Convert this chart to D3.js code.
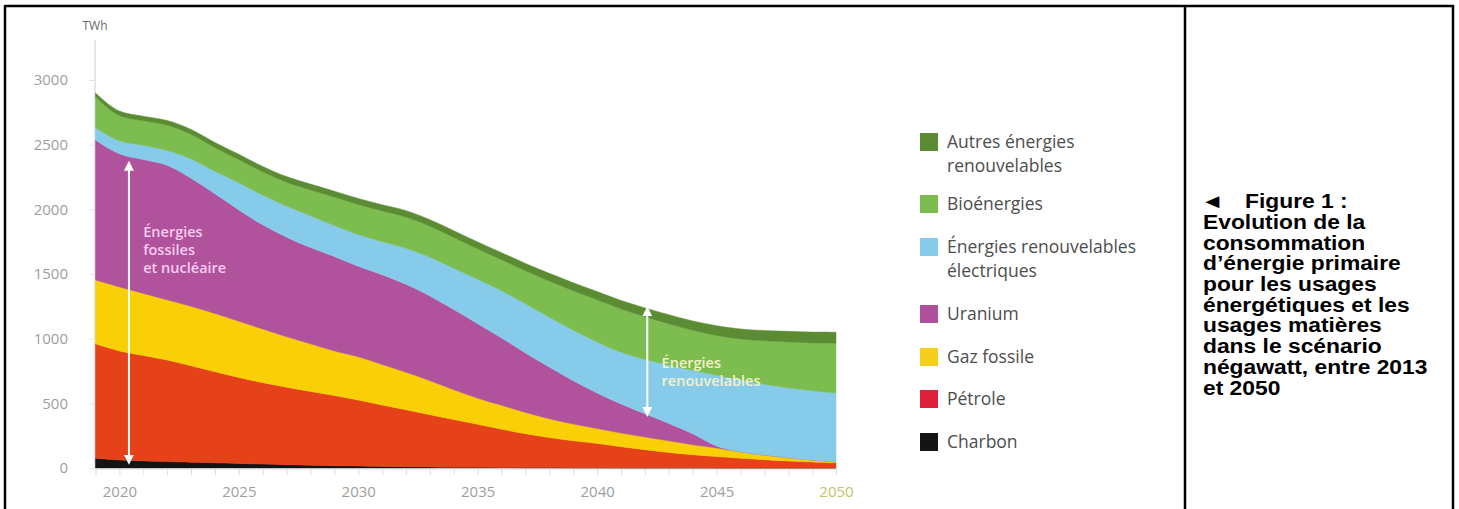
<!DOCTYPE html>
<html>
<head>
<meta charset="utf-8">
<script src="https://cdn.jsdelivr.net/npm/d3@7"></script>
<style>
  body { margin: 0; background: #fff; }
  svg { display: block; }
</style>
</head>
<body>
<script>
// ----- DATA (TWh) -----
const years = d3.range(2019, 2051);

const charbon = [75, 62, 55, 50, 45, 40, 35, 30, 26, 22, 18, 15, 12, 10, 8, 6, 5, 4, 3, 3, 2, 2, 1, 1, 1, 1, 0, 0, 0, 0, 0, 0];
const petrole = [885, 843, 815, 785, 745, 705, 665, 630, 599, 570, 542, 510, 475, 440, 404, 369, 333, 296, 262, 232, 208, 188, 164, 141, 119, 102, 88, 76, 64, 54, 46, 40];
const gaz = [494, 495, 480, 465, 460, 450, 435, 415, 390, 368, 345, 335, 313, 290, 263, 230, 202, 185, 165, 145, 130, 115, 105, 98, 90, 77, 67, 49, 36, 26, 16, 8];
const uranium = [1083, 1030, 1035, 1040, 990, 925, 860, 805, 770, 745, 730, 700, 695, 680, 655, 620, 575, 520, 460, 400, 335, 275, 225, 180, 135, 85, 15, 0, 0, 0, 0, 0];
const enrElec = [93, 100, 110, 115, 150, 175, 210, 230, 240, 245, 240, 245, 255, 280, 300, 320, 345, 365, 380, 385, 390, 395, 400, 420, 450, 490, 548, 557, 548, 540, 535, 532];
const bio = [240, 195, 190, 195, 190, 182, 180, 180, 185, 200, 220, 232, 238, 240, 240, 238, 235, 240, 255, 280, 305, 325, 335, 330, 320, 310, 307, 315, 335, 355, 370, 385];
const autres = [30, 35, 35, 37, 38, 40, 40, 42, 43, 45, 45, 47, 48, 50, 50, 52, 53, 55, 57, 60, 62, 64, 66, 68, 70, 72, 75, 78, 80, 82, 84, 85];

const keys = ["charbon", "petrole", "gaz", "uranium", "enrElec", "bio", "autres"];
const seriesValues = { charbon, petrole, gaz, uranium, enrElec, bio, autres };
const colors = ["#141414", "#e5421a", "#f9cf06", "#b1529c", "#86cbea", "#7dbd4f", "#5b8c34"];
const legendColors = ["#141414", "#e0213d", "#f6ce1c", "#b0509a", "#86cbea", "#7dbd4f", "#5b8c34"];

const legendLabels = [
  ["Autres énergies", "renouvelables"],
  ["Bioénergies"],
  ["Énergies renouvelables", "électriques"],
  ["Uranium"],
  ["Gaz fossile"],
  ["Pétrole"],
  ["Charbon"]
];
const legendKeys = ["autres", "bio", "enrElec", "uranium", "gaz", "petrole", "charbon"];

const yTicks = [0, 500, 1000, 1500, 2000, 2500, 3000];
const xTickLabels = [2020, 2025, 2030, 2035, 2040, 2045, 2050];

const captionLines = [
  "Evolution de la",
  "consommation",
  "d’énergie primaire",
  "pour les usages",
  "énergétiques et les",
  "usages matières",
  "dans le scénario",
  "négawatt, entre 2013",
  "et 2050"
];

// ----- TABLE FOR THE STACK -----
const table = years.map((yr, i) => {
  const row = { year: yr };
  keys.forEach(k => { row[k] = seriesValues[k][i]; });
  return row;
});

const w = 1459, h = 509;
const svg = d3.select("body").append("svg")
  .attr("width", w)
  .attr("height", h);

// ----- SCALES -----
const x = d3.scaleLinear().domain([2019, 2050]).range([95.5, 836]);
const y = d3.scaleLinear().domain([0, 3000]).range([468, 80]);

// ----- AXES -----
const yAxis = d3.axisLeft(y).tickValues(yTicks).tickSize(6).tickPadding(21).tickFormat(d3.format("d"));
const gy = svg.append("g").attr("transform", "translate(95,0)").call(yAxis);
gy.select(".domain").remove();
gy.selectAll(".tick line").attr("stroke", "#e4e4e4");
gy.selectAll(".tick text")
  .attr("fill", "#9e9e9e")
  .style("font-family", "'Open Sans', sans-serif")
  .style("font-size", "15px");

svg.append("line") // vertical axis line
  .attr("x1", 95).attr("x2", 95)
  .attr("y1", 40).attr("y2", 469)
  .attr("stroke", "#e6e6e6")
  .attr("stroke-width", 2);

const xAxisMinor = d3.axisBottom(x).tickValues(years).tickSize(6).tickFormat("");
const gxm = svg.append("g").attr("transform", "translate(0,469)").call(xAxisMinor);
gxm.select(".domain").attr("stroke", "#efefef");
gxm.selectAll(".tick line").attr("stroke", "#dcdcdc");

const xAxis = d3.axisBottom(x).tickValues(xTickLabels).tickSize(0).tickPadding(17).tickFormat(d3.format("d"));
const gx = svg.append("g").attr("transform", "translate(0,469)").call(xAxis);
gx.select(".domain").remove();
gx.selectAll(".tick text")
  .attr("fill", d => d === 2050 ? "#c3c466" : "#9e9e9e")
  .style("font-family", "'Open Sans', sans-serif")
  .style("font-size", "15px");

svg.append("text")
  .attr("x", 95).attr("y", 30)
  .attr("text-anchor", "middle")
  .attr("fill", "#6a6a6a")
  .style("font-family", "'Open Sans', sans-serif")
  .style("font-size", "12px")
  .text("TWh");

// ----- STACKED AREAS -----
const stack = d3.stack().keys(keys);
const layers = stack(table);

const area = d3.area()
  .x(d => x(d.data.year))
  .y0(d => y(d[0]))
  .y1(d => y(d[1]))
  .curve(d3.curveMonotoneX);

svg.append("g").selectAll("path")
  .data(layers)
  .enter()
  .append("path")
  .attr("d", area)
  .attr("fill", (d, i) => colors[i])
  .attr("stroke", (d, i) => colors[i])
  .attr("stroke-width", 0.5);

// ----- ANNOTATION ARROWS -----
svg.append("defs").append("marker")
  .attr("id", "head")
  .attr("viewBox", "0 0 10 10")
  .attr("refX", 8).attr("refY", 5)
  .attr("markerWidth", 5).attr("markerHeight", 6)
  .attr("markerUnits", "strokeWidth")
  .attr("orient", "auto-start-reverse")
  .append("path")
  .attr("d", "M0,0 L10,5 L0,10 Z")
  .attr("fill", "#fff");

function arrow(xv, v0, v1) {
  svg.append("line")
    .attr("x1", x(xv)).attr("x2", x(xv))
    .attr("y1", y(v0)).attr("y2", y(v1))
    .attr("stroke", "#fff")
    .attr("stroke-width", 2)
    .attr("marker-start", "url(#head)")
    .attr("marker-end", "url(#head)");
}
arrow(2020.4, 2360, 40);
arrow(2042.1, 1235, 410);

function note(xv, v, lines, fill) {
  const t = svg.append("text")
    .attr("fill", fill)
    .style("font-family", "'Open Sans', sans-serif")
    .style("font-size", "14.5px")
    .style("font-weight", "600");
  lines.forEach((s, i) => {
    t.append("tspan").attr("x", x(xv)).attr("y", y(v) + i * 18).text(s);
  });
}
note(2021.0, 1786, ["Énergies", "fossiles", "et nucléaire"], "#f6cdef");
note(2042.7, 773, ["Énergies", "renouvelables"], "#f3f1c9");

// ----- LEGEND -----
const legendY = [133, 195, 238, 305, 348, 390, 433];
const legend = svg.append("g").attr("id", "legend");
legendKeys.forEach((k, i) => {
  const g = legend.append("g").attr("transform", "translate(920," + legendY[i] + ")");
  g.append("rect")
    .attr("width", 18).attr("height", 18)
    .attr("fill", legendColors[keys.indexOf(k)]);
  const t = g.append("text")
    .attr("fill", "#4d4d4d")
    .style("font-family", "'Open Sans', sans-serif")
    .style("font-size", "17.5px");
  legendLabels[i].forEach((s, j) => {
    t.append("tspan").attr("x", 27).attr("y", 14.5 + j * 24).text(s);
  });
});

// ----- FRAME AND CAPTION -----
const frame = svg.append("g").attr("stroke", "#000").attr("stroke-width", 2.5);
frame.append("line").attr("x1", 5).attr("x2", 1454).attr("y1", 6).attr("y2", 6);
frame.append("line").attr("x1", 5).attr("x2", 5).attr("y1", 5).attr("y2", 509);
frame.append("line").attr("x1", 1185).attr("x2", 1185).attr("y1", 5).attr("y2", 509);
frame.append("line").attr("x1", 1453).attr("x2", 1453).attr("y1", 5).attr("y2", 509);

// caption is set a little wide, as in the reference
const capX = 1203, capStretch = 1.17;
const cap = svg.append("text")
  .attr("transform", "translate(" + capX + ",0) scale(" + capStretch + ",1)")
  .attr("fill", "#000")
  .style("font-family", "'Liberation Sans', Arial, sans-serif")
  .style("font-size", "19.5px")
  .style("font-weight", "bold");
cap.append("tspan").attr("x", -2).attr("y", 208).style("font-size", "20px").text("◄");
cap.append("tspan").attr("x", (1245 - capX) / capStretch).attr("y", 208).text("Figure 1 :");
captionLines.forEach((s, i) => {
  cap.append("tspan").attr("x", 0).attr("y", 229 + i * 20.7).text(s);
});
</script>
</body>
</html>
